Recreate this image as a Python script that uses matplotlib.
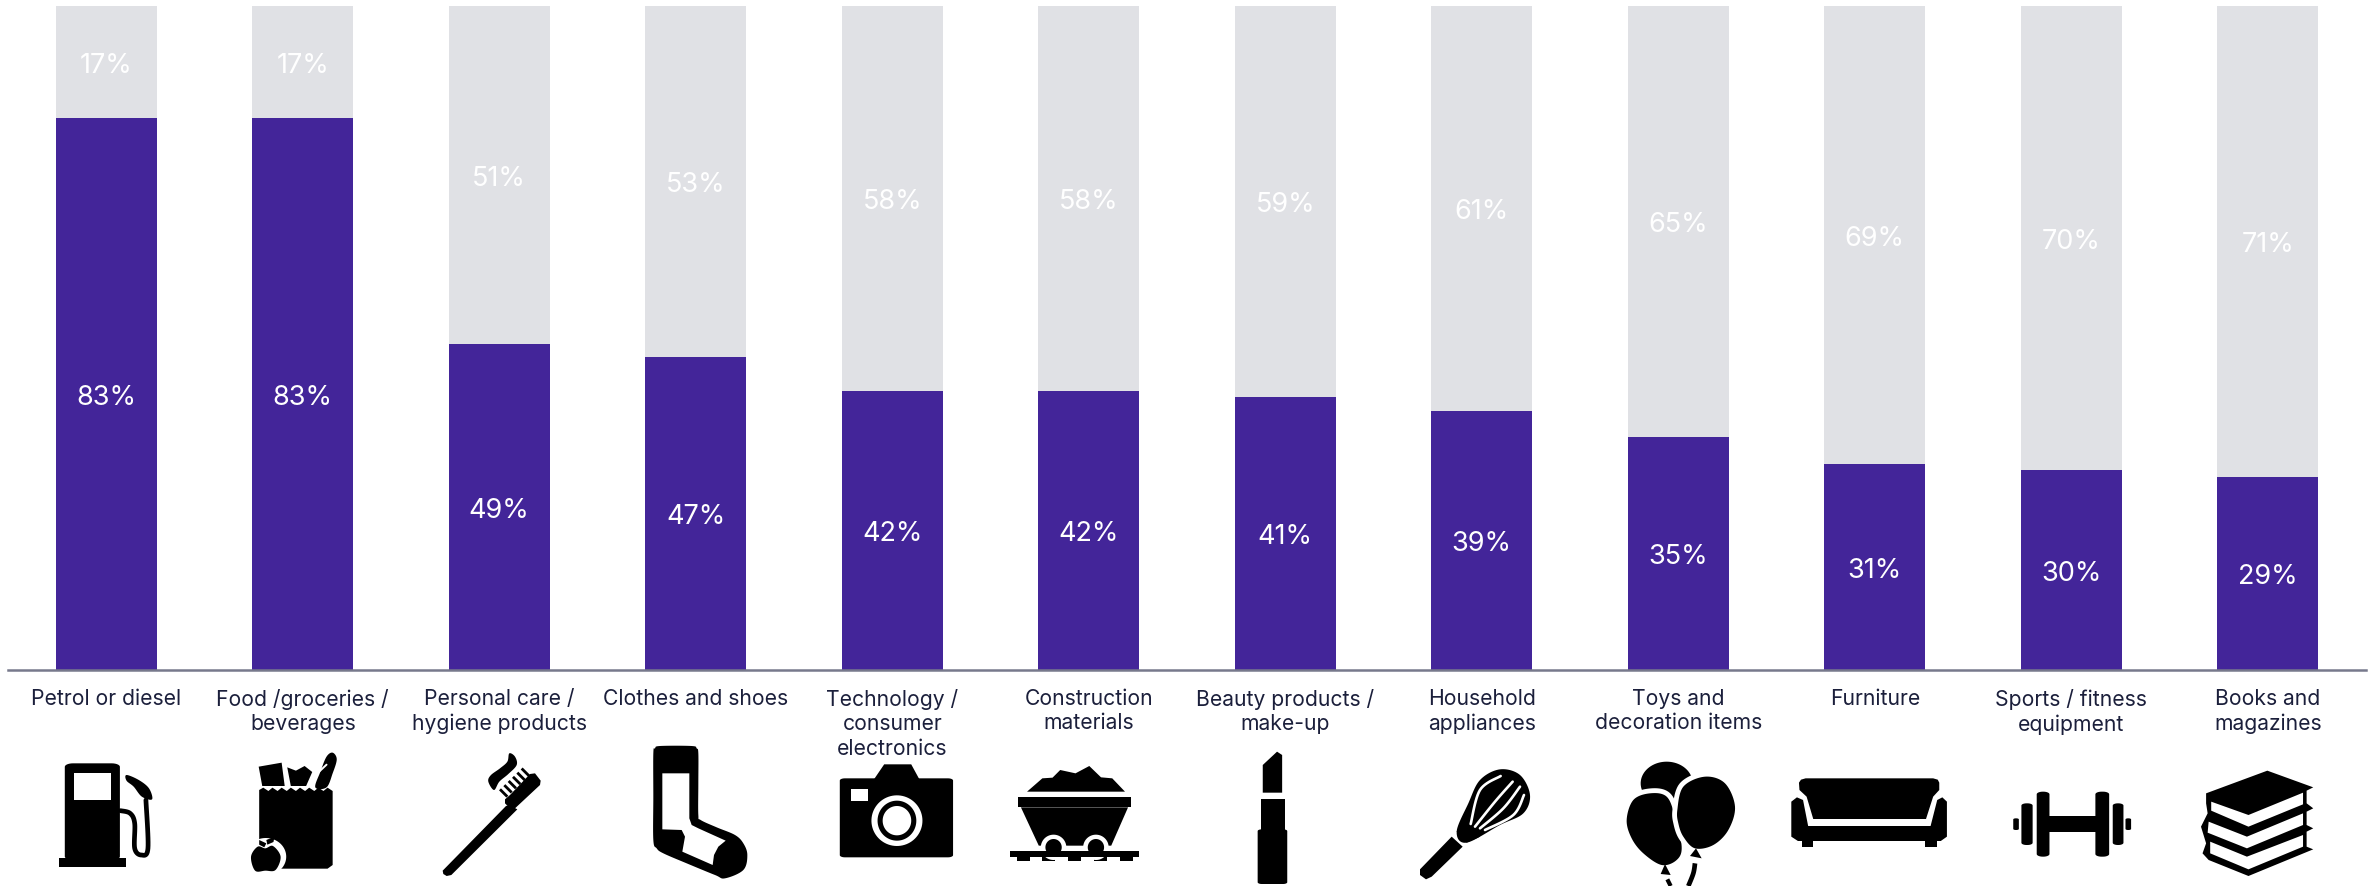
import numpy as np
import matplotlib
matplotlib.use("Agg")
import matplotlib.pyplot as plt
from matplotlib.patches import Polygon
from matplotlib.transforms import ScaledTranslation

plt.rcParams['font.family'] = ['Inter', 'DejaVu Sans']

categories = ["Petrol or diesel", "Food /groceries /\nbeverages", "Personal care /\nhygiene products",
              "Clothes and shoes", "Technology /\nconsumer\nelectronics", "Construction\nmaterials",
              "Beauty products /\nmake-up", "Household\nappliances", "Toys and\ndecoration items",
              "Furniture", "Sports / fitness\nequipment", "Books and\nmagazines"]
yes_share = [83, 83, 49, 47, 42, 42, 41, 39, 35, 31, 30, 29]
no_share = [17, 17, 51, 53, 58, 58, 59, 61, 65, 69, 70, 71]

PURPLE = "#432599"
GREY = "#e0e1e5"
INK = "#1b1f3b"
W, H = 2376, 886

fig = plt.figure(figsize=(W / 100, H / 100), dpi=100, facecolor="white")
ax = fig.add_axes([8 / W, 1 - 669.5 / H, 2358 / W, 664 / H])
x = np.arange(len(categories))
ax.bar(x, yes_share, width=0.512, color=PURPLE, linewidth=0)
ax.bar(x, no_share, width=0.512, bottom=yes_share, color=GREY, linewidth=0)
ax.set_xlim(-0.5, 11.5)
ax.set_ylim(0, 100)
label_shift = ax.transData + ScaledTranslation(0, -4 / 100, fig.dpi_scale_trans)
for i, (a, b) in enumerate(zip(yes_share, no_share)):
    ax.text(i, a / 2, f"{a}%", ha="center", va="center", color="white", fontsize=19.5, transform=label_shift)
    ax.text(i, a + b / 2, f"{b}%", ha="center", va="center", color="white", fontsize=19.5, transform=label_shift)
for side in ("top", "left", "right"):
    ax.spines[side].set_visible(False)
ax.spines["bottom"].set_color("#77798c")
ax.spines["bottom"].set_linewidth(1.8)
ax.set_yticks([])
ax.set_xticks(x)
ax.set_xticklabels(categories, fontsize=15.2, color=INK, linespacing=1.28, va="top", ha="center")
ax.tick_params(axis="x", length=0, pad=14)

# Overlay in pixel space for the pictograms under each category
ov = fig.add_axes([0, 0, 1, 1])
ov.set_xlim(0, W)
ov.set_ylim(H, 0)
ov.axis("off")
ov.patch.set_alpha(0)

origin = [0.0, 640.0]
scale = [1.96, 3.0]


def frame(ox, oy, sx, sy):
    origin[:] = [ox, oy]
    scale[:] = [sx, sy]


def at(pts):
    p = np.asarray(pts, float)
    return np.column_stack([origin[0] + p[:, 0] / scale[0], origin[1] + p[:, 1] / scale[1]])


def spline(pts, closed=True, n=12):
    p = np.asarray(pts, float)
    m = len(p)
    out = []
    rng = range(m) if closed else range(m - 1)
    for i in rng:
        if closed:
            p0, p1, p2, p3 = p[(i - 1) % m], p[i], p[(i + 1) % m], p[(i + 2) % m]
        else:
            p0, p1, p2, p3 = p[max(i - 1, 0)], p[i], p[i + 1], p[min(i + 2, m - 1)]
        for t in np.linspace(0, 1, n, endpoint=False):
            out.append(0.5 * ((2 * p1) + (-p0 + p2) * t + (2 * p0 - 5 * p1 + 4 * p2 - p3) * t ** 2
                              + (-p0 + 3 * p1 - 3 * p2 + p3) * t ** 3))
    if not closed:
        out.append(p[-1])
    return np.array(out)


def poly(pts, c="black", z=5, halo=0):
    # A halo is a white outline laid just beneath the fill, so only its outer half shows
    if halo:
        ov.add_patch(Polygon(at(pts), closed=True, fc="white", ec="white", lw=halo, zorder=z - 0.1))
    ov.add_patch(Polygon(at(pts), closed=True, fc=c, ec="none", zorder=z))


def blob(pts, c="black", z=5, halo=0):
    poly(spline(pts), c, z, halo)


def line(pts, lw, c="black", z=5, smooth=True, cap="round"):
    q = at(spline(pts, closed=False) if smooth else pts)
    ov.plot(q[:, 0], q[:, 1], color=c, lw=lw, solid_capstyle=cap, solid_joinstyle="round", zorder=z)


def ell(cx, cy, rx, ry, c="black", z=5, angle=0):
    t = np.linspace(0, 2 * np.pi, 80)
    a = np.deg2rad(angle)
    ex, ey = rx * np.cos(t), ry * np.sin(t)
    poly(np.column_stack([cx + ex * np.cos(a) - ey * np.sin(a), cy + ex * np.sin(a) + ey * np.cos(a)]), c, z)


def rect(x0, y0, x1, y1, c="black", z=5):
    poly([(x0, y0), (x1, y0), (x1, y1), (x0, y1)], c, z)


def rrect(x0, y0, x1, y1, r, c="black", z=5):
    ry = r * scale[0] / scale[1]
    t = np.linspace(0, np.pi / 2, 8)
    pts = []
    for cx, cy, s in [(x1 - r, y0 + ry, -np.pi / 2), (x1 - r, y1 - ry, 0), (x0 + r, y1 - ry, np.pi / 2), (x0 + r, y0 + ry, np.pi)]:
        pts += [(cx + r * np.cos(u + s), cy + ry * np.sin(u + s)) for u in t]
    poly(pts, c, z)


# Fuel pump
frame(0, 640, 1.96, 3)
rrect(127, 370, 235, 660, 16)
rect(115, 655, 247, 682)
rect(145, 398, 218, 480, "white", 6)
line([(236, 512), (255, 520), (264, 550), (264, 625), (277, 645), (290, 625), (286, 480)], 3.4)
blob([(248, 405), (272, 420), (292, 445), (298, 478), (278, 470), (262, 440), (248, 422)])

# Grocery bag
top = [(508, 450)]
for k in range(8):
    top += [(516 + k * 18, 443), (526 + k * 18, 453)]
poly(top + [(652, 450), (652, 675), (642, 686), (540, 686), (508, 640)])
poly([(507, 380), (552, 368), (558, 438), (514, 438)])
poly([(563, 382), (580, 392), (597, 378), (612, 396), (600, 438), (570, 438)])
blob([(652, 338), (660, 358), (652, 400), (640, 442), (618, 442), (628, 395), (640, 350)])
line([(640, 374), (622, 400), (604, 438)], 1.4, "white", 6, smooth=False)
ell(521, 650, 40, 56, "white", 6)
blob([(492, 650), (505, 620), (520, 625), (535, 618), (550, 650), (540, 690), (520, 692), (500, 692)], z=7)
poly([(508, 600), (522, 610), (518, 622), (508, 614)], z=7)
poly([(522, 600), (538, 590), (536, 606), (524, 614)], z=7)

# Toothbrush
frame(420, 740, 3, 3)
poly([(68, 392), (258, 198), (268, 195), (292, 208), (94, 405), (80, 408), (70, 402)])
poly([(255, 178), (270, 165), (330, 102), (345, 100), (362, 122), (360, 135), (285, 205), (265, 200), (255, 190)])
blob([(268, 40), (285, 50), (290, 75), (265, 102), (238, 125), (222, 150), (205, 125), (212, 106), (240, 85), (262, 65)])
for k in range(6):
    line([(240 + 13 * k, 148 - 12.5 * k), (262 + 13 * k, 170 - 12.5 * k)], 2.0, smooth=False, cap="butt")

# Sock
blob([(700, 40), (705, 25), (720, 18), (815, 18), (830, 25), (835, 40), (835, 130), (835, 225), (842, 240), (890, 262),
      (945, 285), (970, 310), (982, 345), (970, 390), (915, 415), (885, 405), (800, 370), (730, 340), (710, 325), (700, 300),
      (700, 170)])
poly([(727, 100), (808, 100), (808, 235), (815, 255), (835, 265), (917, 302), (895, 320), (882, 345), (878, 375), (787, 335),
      (795, 290), (785, 270), (727, 268)], "white", 6)

# Camera
frame(800, 640, 1.96, 3)
rrect(78, 415, 300, 652, 10)
poly([(145, 418), (165, 373), (218, 373), (234, 418)])
rect(100, 448, 134, 482, "white", 6)
ell(190, 542, 50, 76, "white", 6)
ell(190, 542, 38, 60, "black", 7)
ell(190, 542, 28, 44, "white", 8)

# Mine cart
poly([(445, 455), (475, 415), (495, 413), (510, 390), (540, 400), (567, 378), (590, 412), (612, 415), (637, 455)])
rect(428, 472, 648, 502)
poly([(433, 502), (643, 502), (610, 617), (468, 617)])
for cx in (497, 580):
    ell(cx, 622, 25, 38, "white", 6)
    ell(cx, 622, 16, 25, "black", 7)
rect(412, 633, 665, 650, z=8)
for tx in (425, 475, 525, 576, 627):
    rect(tx, 650, tx + 25, 663)

# Lipstick
poly([(907, 375), (935, 335), (945, 345), (945, 458), (907, 458)])
rect(903, 476, 951, 570)
rrect(897, 568, 955, 732, 8)

# Whisk
frame(1400, 740, 3, 3)
blob([(170, 275), (205, 190), (240, 120), (300, 88), (360, 105), (390, 165), (370, 220), (300, 255), (200, 308)])
poly([(170, 275), (200, 308), (240, 290), (190, 230)])
line([(212, 252), (240, 150), (302, 108)], 1.9, "white", 6)
line([(225, 260), (285, 185), (338, 125)], 1.9, "white", 6)
line([(240, 265), (310, 205), (360, 140)], 1.9, "white", 6)
line([(255, 270), (340, 225), (372, 165)], 1.9, "white", 6)
poly([(155, 290), (188, 320), (95, 410), (78, 418), (60, 405), (60, 388)])

# Balloons
ell(800, 130, 78, 65)
blob([(680, 240), (700, 180), (750, 160), (800, 170), (825, 230), (845, 320), (830, 360), (785, 375), (730, 340), (695, 295)],
     z=6, halo=7)
blob([(832, 210), (850, 140), (915, 110), (975, 130), (1005, 200), (985, 270), (940, 315), (885, 325), (850, 290), (835, 250)],
     z=7, halo=7)
poly([(795, 372), (782, 402), (812, 405)], z=8)
poly([(888, 325), (870, 348), (905, 355)], z=8)
line([(802, 418), (812, 438)], 3.0, smooth=False, cap="butt")
line([(885, 370), (880, 400), (865, 438)], 3.4, cap="butt")

# Sofa
frame(1576, 640, 1.96, 3)
poly([(437, 428), (441, 419), (450, 415), (700, 415), (709, 419), (712, 428), (712, 450), (700, 470), (686, 537), (465, 537),
      (452, 470), (438, 450)])
poly([(422, 485), (433, 472), (445, 480), (455, 558), (695, 558), (708, 480), (718, 472), (727, 485), (727, 590),
      (715, 603), (435, 603), (422, 590)])
rect(443, 603, 465, 622)
rect(685, 603, 707, 622)

# Dumbbell
rect(925, 527, 1020, 577)
rrect(903, 455, 928, 650, 12)
rrect(1018, 455, 1045, 650, 12)
rrect(873, 490, 895, 615, 10)
rrect(1052, 490, 1073, 615, 10)
rrect(857, 535, 868, 570, 5)
rrect(1077, 535, 1088, 570, 5)

# Book stack
poly([(1235, 460), (1355, 392), (1445, 442), (1432, 452), (1432, 490), (1445, 505), (1432, 515), (1432, 555), (1445, 565),
      (1432, 575), (1432, 620), (1445, 628), (1318, 708), (1240, 660), (1228, 640), (1235, 610), (1225, 560), (1238, 520),
      (1235, 490)])
poly([(1245, 485), (1318, 525), (1425, 458), (1425, 493), (1318, 560), (1245, 512)], "white", 6)
poly([(1240, 545), (1315, 590), (1425, 520), (1425, 555), (1315, 625), (1238, 578)], "white", 6)
poly([(1243, 605), (1315, 650), (1425, 585), (1425, 620), (1318, 688), (1243, 640)], "white", 6)

fig.savefig("out.png", dpi=100, facecolor="white")
